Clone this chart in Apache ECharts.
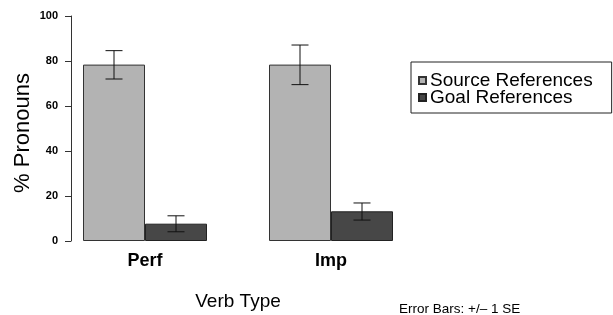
<!DOCTYPE html>
<html>
<head>
<meta charset="utf-8">
<script src="https://cdn.jsdelivr.net/npm/echarts@6/dist/echarts.min.js"></script>
<style>
  html, body { margin: 0; padding: 0; background: #fff; }
  #chart { width: 613px; height: 315px; }
</style>
</head>
<body>
<div id="chart"></div>
<script>
// verb types on x axis
const verbTypes = ['Perf', 'Imp']
// mean % pronouns
const sourceRefs = [78.4, 78.4]
const goalRefs = [7.7, 13.2]
// +/- 1 SE bounds
const sourceLow = [72.0, 69.5]
const sourceHigh = [84.6, 87.1]
const goalLow = [4.1, 9.3]
const goalHigh = [11.2, 16.9]
const yTicks = [0, 20, 40, 60, 80, 100]

const font = 'Liberation Sans, Arial, sans-serif'
const gapRatio = 1 / 3

// error bars, drawn at the centre of each bar
function errorBars (lows, highs, side) {
  return {
    type: 'custom',
    silent: true,
    z: 5,
    data: verbTypes.map((v, i) => [i, lows[i], highs[i]]),
    renderItem (params, api) {
      const band = api.size([1, 0])[0]
      const barW = band * (1 - gapRatio) / 2
      const lo = api.coord([api.value(0), api.value(1)])
      const hi = api.coord([api.value(0), api.value(2)])
      const x = lo[0] + side * barW / 2
      const cap = 8.5
      const style = { stroke: '#111', lineWidth: 1 }
      return {
        type: 'group',
        children: [
          { type: 'line', shape: { x1: x, y1: lo[1], x2: x, y2: hi[1] }, style },
          { type: 'line', shape: { x1: x - cap, y1: lo[1], x2: x + cap, y2: lo[1] }, style },
          { type: 'line', shape: { x1: x - cap, y1: hi[1], x2: x + cap, y2: hi[1] }, style }
        ]
      }
    }
  }
}

const chart = echarts.init(document.getElementById('chart'))
chart.setOption({
  animation: false,
  grid: { left: 52, width: 372, top: 16, height: 225, outerBoundsMode: 'none' },
  legend: {
    orient: 'vertical',
    left: 411,
    top: 62,
    padding: [9, 19, 6, 7],
    itemGap: -2,
    itemWidth: 7,
    itemHeight: 7,
    borderColor: '#222',
    borderWidth: 1,
    borderRadius: 0,
    icon: 'rect',
    data: ['Source References', 'Goal References'],
    textStyle: { fontFamily: font, fontSize: 19, color: '#000', lineHeight: 17, padding: [0, 0, 0, -1] }
  },
  xAxis: {
    type: 'category',
    data: verbTypes,
    axisLine: { show: false },
    axisTick: { show: false },
    axisLabel: { margin: 11, fontFamily: font, fontSize: 18, fontWeight: 'bold', color: '#000' },
    name: 'Verb Type',
    nameLocation: 'middle',
    nameGap: 51,
    nameTextStyle: { fontFamily: font, fontSize: 19, color: '#000' }
  },
  yAxis: {
    type: 'value',
    min: yTicks[0],
    max: yTicks[yTicks.length - 1],
    interval: 20,
    offset: -19,
    splitLine: { show: false },
    axisLine: { show: true, lineStyle: { color: '#333', width: 1 } },
    axisTick: { show: true, length: 6, lineStyle: { color: '#333' } },
    axisLabel: { margin: 13, fontFamily: font, fontSize: 11, fontWeight: 'bold', color: '#000' }
  },
  graphic: [
    {
      type: 'text',
      x: 23,
      y: 133,
      rotation: Math.PI / 2,
      style: { text: '% Pronouns', fontFamily: font, fontSize: 22, fill: '#000', align: 'center', verticalAlign: 'middle' }
    },
    {
      type: 'text',
      left: 399,
      top: 302,
      style: { text: 'Error Bars: +/\u2013 1 SE', fontFamily: font, fontSize: 13.5, fill: '#000' }
    }
  ],
  series: [
    {
      name: 'Source References',
      type: 'bar',
      data: sourceRefs,
      barGap: '0%',
      barCategoryGap: (gapRatio * 100) + '%',
      itemStyle: { color: '#b3b3b3', borderColor: '#333', borderWidth: 1 }
    },
    {
      name: 'Goal References',
      type: 'bar',
      data: goalRefs,
      itemStyle: { color: '#474747', borderColor: '#222', borderWidth: 1 }
    },
    errorBars(sourceLow, sourceHigh, -1),
    errorBars(goalLow, goalHigh, 1)
  ]
})
</script>
</body>
</html>
